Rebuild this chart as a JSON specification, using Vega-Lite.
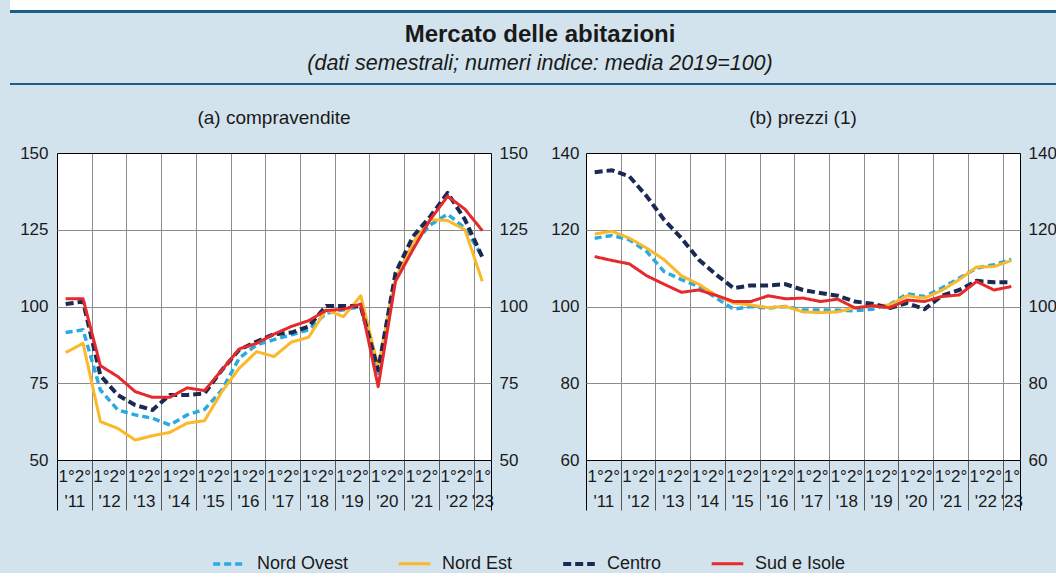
{
  "$schema": "https://vega.github.io/schema/vega-lite/v6.json",
  "background": "#d3e3ed",
  "padding": 0,
  "config": {
    "font": "Liberation Sans",
    "view": {"stroke": null},
    "axis": {"title": null, "domain": false, "ticks": false, "labelFont": "Liberation Sans", "labelFontSize": 17, "labelColor": "#1a1a1a", "gridColor": "#8c8c8c", "gridWidth": 1, "gridOpacity": 1},
    "title": {"font": "Liberation Sans", "fontSize": 19, "fontWeight": "normal", "color": "#1a1a1a"},
    "legend": {"layout": {"bottom": {"anchor": "middle"}}},
    "line": {"strokeCap": "butt", "strokeJoin": "round"}
  },
  "datasets": {
    "a": [
      {"t": 0, "Nord Ovest": 91.5, "Nord Est": 85.0, "Centro": 100.8, "Sud e Isole": 102.5},
      {"t": 1, "Nord Ovest": 92.4, "Nord Est": 88.0, "Centro": 101.6, "Sud e Isole": 102.5},
      {"t": 2, "Nord Ovest": 72.8, "Nord Est": 62.5, "Centro": 77.5, "Sud e Isole": 80.7},
      {"t": 3, "Nord Ovest": 66.3, "Nord Est": 60.3, "Centro": 71.2, "Sud e Isole": 77.2},
      {"t": 4, "Nord Ovest": 64.7, "Nord Est": 56.5, "Centro": 67.9, "Sud e Isole": 72.3},
      {"t": 5, "Nord Ovest": 63.6, "Nord Est": 57.9, "Centro": 66.3, "Sud e Isole": 70.4},
      {"t": 6, "Nord Ovest": 61.4, "Nord Est": 59.0, "Centro": 71.2, "Sud e Isole": 70.4},
      {"t": 7, "Nord Ovest": 64.7, "Nord Est": 62.0, "Centro": 71.2, "Sud e Isole": 73.5},
      {"t": 8, "Nord Ovest": 66.5, "Nord Est": 62.8, "Centro": 71.7, "Sud e Isole": 72.6},
      {"t": 9, "Nord Ovest": 72.8, "Nord Est": 72.3, "Centro": 79.3, "Sud e Isole": 79.3},
      {"t": 10, "Nord Ovest": 83.2, "Nord Est": 79.9, "Centro": 85.9, "Sud e Isole": 86.2},
      {"t": 11, "Nord Ovest": 87.5, "Nord Est": 85.3, "Centro": 88.6, "Sud e Isole": 88.0},
      {"t": 12, "Nord Ovest": 89.2, "Nord Est": 83.7, "Centro": 91.0, "Sud e Isole": 91.0},
      {"t": 13, "Nord Ovest": 90.8, "Nord Est": 88.4, "Centro": 91.5, "Sud e Isole": 93.5},
      {"t": 14, "Nord Ovest": 92.4, "Nord Est": 90.0, "Centro": 93.5, "Sud e Isole": 95.4},
      {"t": 15, "Nord Ovest": 97.8, "Nord Est": 98.9, "Centro": 100.2, "Sud e Isole": 98.7},
      {"t": 16, "Nord Ovest": 98.9, "Nord Est": 96.7, "Centro": 100.2, "Sud e Isole": 99.1},
      {"t": 17, "Nord Ovest": 100.0, "Nord Est": 103.5, "Centro": 100.0, "Sud e Isole": 100.8},
      {"t": 18, "Nord Ovest": 78.3, "Nord Est": 80.4, "Centro": 79.3, "Sud e Isole": 73.9},
      {"t": 19, "Nord Ovest": 109.8, "Nord Est": 109.2, "Centro": 110.9, "Sud e Isole": 108.2},
      {"t": 20, "Nord Ovest": 120.1, "Nord Est": 120.7, "Centro": 122.8, "Sud e Isole": 118.5},
      {"t": 21, "Nord Ovest": 126.6, "Nord Est": 128.3, "Centro": 129.3, "Sud e Isole": 128.3},
      {"t": 22, "Nord Ovest": 130.1, "Nord Est": 128.0, "Centro": 137.0, "Sud e Isole": 135.9},
      {"t": 23, "Nord Ovest": 125.5, "Nord Est": 125.0, "Centro": 128.3, "Sud e Isole": 131.7},
      {"t": 24, "Nord Ovest": 116.3, "Nord Est": 108.2, "Centro": 116.1, "Sud e Isole": 124.7}
    ],
    "b": [
      {"t": 0, "Nord Ovest": 117.8, "Nord Est": 118.9, "Centro": 135.0, "Sud e Isole": 113.0},
      {"t": 1, "Nord Ovest": 118.5, "Nord Est": 119.6, "Centro": 135.5, "Sud e Isole": 112.0},
      {"t": 2, "Nord Ovest": 117.4, "Nord Est": 117.8, "Centro": 133.9, "Sud e Isole": 111.1},
      {"t": 3, "Nord Ovest": 114.3, "Nord Est": 115.2, "Centro": 128.7, "Sud e Isole": 108.0},
      {"t": 4, "Nord Ovest": 109.1, "Nord Est": 112.2, "Centro": 122.6, "Sud e Isole": 105.8},
      {"t": 5, "Nord Ovest": 107.0, "Nord Est": 108.0, "Centro": 117.8, "Sud e Isole": 103.7},
      {"t": 6, "Nord Ovest": 105.2, "Nord Est": 105.8, "Centro": 112.2, "Sud e Isole": 104.3},
      {"t": 7, "Nord Ovest": 102.2, "Nord Est": 102.9, "Centro": 108.3, "Sud e Isole": 102.9},
      {"t": 8, "Nord Ovest": 99.3, "Nord Est": 100.9, "Centro": 104.8, "Sud e Isole": 101.3},
      {"t": 9, "Nord Ovest": 100.0, "Nord Est": 100.4, "Centro": 105.5, "Sud e Isole": 101.3},
      {"t": 10, "Nord Ovest": 99.6, "Nord Est": 99.7, "Centro": 105.5, "Sud e Isole": 102.8},
      {"t": 11, "Nord Ovest": 100.0, "Nord Est": 100.0, "Centro": 105.8, "Sud e Isole": 102.0},
      {"t": 12, "Nord Ovest": 99.1, "Nord Est": 98.6, "Centro": 104.3, "Sud e Isole": 102.2},
      {"t": 13, "Nord Ovest": 99.1, "Nord Est": 98.4, "Centro": 103.5, "Sud e Isole": 101.3},
      {"t": 14, "Nord Ovest": 99.0, "Nord Est": 98.6, "Centro": 102.8, "Sud e Isole": 101.9},
      {"t": 15, "Nord Ovest": 98.9, "Nord Est": 99.7, "Centro": 101.3, "Sud e Isole": 99.6},
      {"t": 16, "Nord Ovest": 99.3, "Nord Est": 100.2, "Centro": 100.7, "Sud e Isole": 100.2},
      {"t": 17, "Nord Ovest": 100.5, "Nord Est": 100.4, "Centro": 99.6, "Sud e Isole": 99.7},
      {"t": 18, "Nord Ovest": 103.3, "Nord Est": 102.8, "Centro": 100.9, "Sud e Isole": 101.7},
      {"t": 19, "Nord Ovest": 102.6, "Nord Est": 102.2, "Centro": 99.3, "Sud e Isole": 101.3},
      {"t": 20, "Nord Ovest": 104.8, "Nord Est": 104.2, "Centro": 102.8, "Sud e Isole": 102.6},
      {"t": 21, "Nord Ovest": 107.4, "Nord Est": 107.0, "Centro": 104.3, "Sud e Isole": 103.0},
      {"t": 22, "Nord Ovest": 110.0, "Nord Est": 110.3, "Centro": 106.7, "Sud e Isole": 106.5},
      {"t": 23, "Nord Ovest": 110.9, "Nord Est": 110.4, "Centro": 106.3, "Sud e Isole": 104.3},
      {"t": 24, "Nord Ovest": 112.3, "Nord Est": 112.0, "Centro": 106.3, "Sud e Isole": 105.2}
    ]
  },
  "spacing": 24,
  "vconcat": [
    {
      "spacing": 9,
      "hconcat": [
        {"width": 1, "height": 1, "data": {"values": [{}]}, "mark": {"type": "point", "size": 0, "opacity": 0, "strokeWidth": 0}, "encoding": {}},
        {
          "spacing": 0,
          "vconcat": [
            {"width": 1046, "height": 10, "view": {"fill": "white", "stroke": null}, "data": {"values": [{}]}, "mark": {"type": "point", "size": 0, "opacity": 0, "strokeWidth": 0}, "encoding": {}},
            {"width": 1046, "height": 3, "view": {"fill": "#1d5e85", "stroke": null}, "data": {"values": [{}]}, "mark": {"type": "point", "size": 0, "opacity": 0, "strokeWidth": 0}, "encoding": {}},
            {
              "width": 1046, "height": 70,
              "data": {"values": [{}]},
              "layer": [
                {"mark": {"type": "text", "font": "Liberation Sans Narrow, Liberation Sans", "fontSize": 24, "fontWeight": "bold", "color": "#1a1a1a", "baseline": "middle", "dx": 7, "dy": -13}, "encoding": {"text": {"value": "Mercato delle abitazioni"}}},
                {"mark": {"type": "text", "font": "Liberation Sans Narrow, Liberation Sans", "fontSize": 21.5, "fontStyle": "italic", "color": "#1a1a1a", "baseline": "middle", "dx": 7, "dy": 16}, "encoding": {"text": {"value": "(dati semestrali; numeri indice: media 2019=100)"}}}
              ]
            },
            {"width": 1046, "height": 2, "view": {"fill": "#1d5e85", "stroke": null}, "data": {"values": [{}]}, "mark": {"type": "point", "size": 0, "opacity": 0, "strokeWidth": 0}, "encoding": {}}
          ]
        }
      ]
    },
    {
      "spacing": 0,
      "resolve": {"scale": {"color": "shared", "strokeDash": "shared", "strokeWidth": "shared"}},
      "hconcat": [
        {"width": 1, "height": 1, "data": {"values": [{}]}, "mark": {"type": "point", "size": 0, "opacity": 0, "strokeWidth": 0}, "encoding": {}},
        {
          "spacing": 22,
          "resolve": {"scale": {"color": "shared", "strokeDash": "shared", "strokeWidth": "shared"}},
          "hconcat": [
            {
              "width": 434, "height": 307,
              "title": {"text": "(a) compravendite", "offset": 16},
              "data": {"name": "a"},
              "view": {"fill": "white", "stroke": null},
              "resolve": {"axis": {"x": "independent", "y": "independent"}},
              "layer": [
                {
                  "transform": [{"fold": ["Nord Ovest", "Nord Est"], "as": ["serie", "v"]}],
                  "mark": {"type": "line"},
                  "encoding": {
                    "x": {"field": "t", "type": "quantitative", "scale": {"domain": [-0.5, 24.5], "nice": false, "zero": false},
                      "axis": {"orient": "bottom", "values": [-0.5, 1.5, 3.5, 5.5, 7.5, 9.5, 11.5, 13.5, 15.5, 17.5, 19.5, 21.5, 23.5, 24.5], "labels": false, "ticks": true, "tickSize": 50, "tickColor": {"condition": {"test": "datum.value < 0 || datum.value > 24", "value": "#000000"}, "value": "#555555"}, "tickWidth": 1, "grid": true, "gridColor": {"condition": {"test": "datum.value < 0 || datum.value > 24", "value": "#000000"}, "value": "#8c8c8c"}}},
                    "y": {"field": "v", "type": "quantitative", "scale": {"domain": [50, 150], "nice": false, "zero": false},
                      "axis": {"orient": "left", "values": [50, 75, 100, 125, 150], "grid": true, "gridColor": {"condition": {"test": "datum.value == 50 || datum.value == 150", "value": "#000000"}, "value": "#8c8c8c"}, "labelPadding": 9, "minExtent": 56, "maxExtent": 56}},
                    "color": {"field": "serie", "type": "nominal", "scale": {"domain": ["Nord Ovest", "Nord Est", "Centro", "Sud e Isole"], "range": ["#29abe2", "#fbb829", "#1b2a52", "#e62a2c"]},
                      "legend": {"orient": "bottom", "direction": "horizontal", "title": null, "symbolType": "stroke", "symbolSize": 1000, "symbolStrokeWidth": 3.5, "labelFontSize": 18, "labelColor": "#1a1a1a", "labelOffset": 10, "columnPadding": 48, "offset": 35, "labelLimit": 300}},
                    "strokeDash": {"field": "serie", "type": "nominal", "scale": {"domain": ["Nord Ovest", "Nord Est", "Centro", "Sud e Isole"], "range": [[7, 4], [1, 0], [8, 4], [1, 0]]}},
                    "strokeWidth": {"field": "serie", "type": "nominal", "scale": {"type": "ordinal", "domain": ["Nord Ovest", "Nord Est", "Centro", "Sud e Isole"], "range": [3.5, 3, 4, 3]}, "legend": null}
                  }
                },
                {
                  "transform": [{"fold": ["Centro", "Sud e Isole"], "as": ["serie", "v"]}],
                  "mark": {"type": "line"},
                  "encoding": {
                    "x": {"field": "t", "type": "quantitative", "scale": {"domain": [-0.5, 24.5], "nice": false, "zero": false},
                      "axis": {"orient": "bottom", "values": [0.5, 2.5, 4.5, 6.5, 8.5, 10.5, 12.5, 14.5, 16.5, 18.5, 20.5, 22.5, 24], "labelExpr": "datum.value > 23.9 ? ['1°', \"'23\"] : ['1°2°', \"'\" + (11 + floor(datum.value / 2))]", "labelLineHeight": 25, "labelPadding": 8, "labelFlush": false, "labelOverlap": false, "grid": false}},
                    "y": {"field": "v", "type": "quantitative", "scale": {"domain": [50, 150], "nice": false, "zero": false},
                      "axis": {"orient": "right", "values": [50, 75, 100, 125, 150], "grid": false, "labelPadding": 8, "minExtent": 36, "maxExtent": 36}},
                    "color": {"field": "serie", "type": "nominal", "scale": {"domain": ["Nord Ovest", "Nord Est", "Centro", "Sud e Isole"], "range": ["#29abe2", "#fbb829", "#1b2a52", "#e62a2c"]}},
                    "strokeDash": {"field": "serie", "type": "nominal", "scale": {"domain": ["Nord Ovest", "Nord Est", "Centro", "Sud e Isole"], "range": [[7, 4], [1, 0], [8, 4], [1, 0]]}},
                    "strokeWidth": {"field": "serie", "type": "nominal", "scale": {"type": "ordinal", "domain": ["Nord Ovest", "Nord Est", "Centro", "Sud e Isole"], "range": [3.5, 3, 4, 3]}, "legend": null}
                  }
                }
              ]
            },
            {
              "width": 434, "height": 307,
              "title": {"text": "(b) prezzi (1)", "offset": 16},
              "data": {"name": "b"},
              "view": {"fill": "white", "stroke": null},
              "resolve": {"axis": {"x": "independent", "y": "independent"}},
              "layer": [
                {
                  "transform": [{"fold": ["Nord Ovest", "Nord Est"], "as": ["serie", "v"]}],
                  "mark": {"type": "line"},
                  "encoding": {
                    "x": {"field": "t", "type": "quantitative", "scale": {"domain": [-0.5, 24.5], "nice": false, "zero": false},
                      "axis": {"orient": "bottom", "values": [-0.5, 1.5, 3.5, 5.5, 7.5, 9.5, 11.5, 13.5, 15.5, 17.5, 19.5, 21.5, 23.5, 24.5], "labels": false, "ticks": true, "tickSize": 50, "tickColor": {"condition": {"test": "datum.value < 0 || datum.value > 24", "value": "#000000"}, "value": "#555555"}, "tickWidth": 1, "grid": true, "gridColor": {"condition": {"test": "datum.value < 0 || datum.value > 24", "value": "#000000"}, "value": "#8c8c8c"}}},
                    "y": {"field": "v", "type": "quantitative", "scale": {"domain": [60, 140], "nice": false, "zero": false},
                      "axis": {"orient": "left", "values": [60, 80, 100, 120, 140], "grid": true, "gridColor": {"condition": {"test": "datum.value == 60 || datum.value == 140", "value": "#000000"}, "value": "#8c8c8c"}, "labelPadding": 7, "minExtent": 36, "maxExtent": 36}},
                    "color": {"field": "serie", "type": "nominal", "scale": {"domain": ["Nord Ovest", "Nord Est", "Centro", "Sud e Isole"], "range": ["#29abe2", "#fbb829", "#1b2a52", "#e62a2c"]},
                      "legend": {"orient": "bottom", "direction": "horizontal", "title": null, "symbolType": "stroke", "symbolSize": 1000, "symbolStrokeWidth": 3.5, "labelFontSize": 18, "labelColor": "#1a1a1a", "labelOffset": 10, "columnPadding": 48, "offset": 35, "labelLimit": 300}},
                    "strokeDash": {"field": "serie", "type": "nominal", "scale": {"domain": ["Nord Ovest", "Nord Est", "Centro", "Sud e Isole"], "range": [[7, 4], [1, 0], [8, 4], [1, 0]]}},
                    "strokeWidth": {"field": "serie", "type": "nominal", "scale": {"type": "ordinal", "domain": ["Nord Ovest", "Nord Est", "Centro", "Sud e Isole"], "range": [3.5, 3, 4, 3]}, "legend": null}
                  }
                },
                {
                  "transform": [{"fold": ["Centro", "Sud e Isole"], "as": ["serie", "v"]}],
                  "mark": {"type": "line"},
                  "encoding": {
                    "x": {"field": "t", "type": "quantitative", "scale": {"domain": [-0.5, 24.5], "nice": false, "zero": false},
                      "axis": {"orient": "bottom", "values": [0.5, 2.5, 4.5, 6.5, 8.5, 10.5, 12.5, 14.5, 16.5, 18.5, 20.5, 22.5, 24], "labelExpr": "datum.value > 23.9 ? ['1°', \"'23\"] : ['1°2°', \"'\" + (11 + floor(datum.value / 2))]", "labelLineHeight": 25, "labelPadding": 8, "labelFlush": false, "labelOverlap": false, "grid": false}},
                    "y": {"field": "v", "type": "quantitative", "scale": {"domain": [60, 140], "nice": false, "zero": false},
                      "axis": {"orient": "right", "values": [60, 80, 100, 120, 140], "grid": false, "labelPadding": 8, "minExtent": 36, "maxExtent": 36}},
                    "color": {"field": "serie", "type": "nominal", "scale": {"domain": ["Nord Ovest", "Nord Est", "Centro", "Sud e Isole"], "range": ["#29abe2", "#fbb829", "#1b2a52", "#e62a2c"]}},
                    "strokeDash": {"field": "serie", "type": "nominal", "scale": {"domain": ["Nord Ovest", "Nord Est", "Centro", "Sud e Isole"], "range": [[7, 4], [1, 0], [8, 4], [1, 0]]}},
                    "strokeWidth": {"field": "serie", "type": "nominal", "scale": {"type": "ordinal", "domain": ["Nord Ovest", "Nord Est", "Centro", "Sud e Isole"], "range": [3.5, 3, 4, 3]}, "legend": null}
                  }
                }
              ]
            }
          ]
        }
      ]
    }
  ]
}
